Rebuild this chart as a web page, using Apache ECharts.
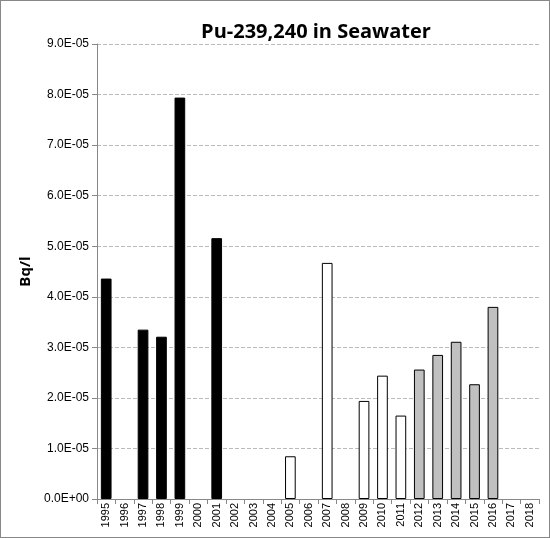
<!DOCTYPE html><html><head><meta charset="utf-8"><script src="https://cdn.jsdelivr.net/npm/echarts@6/dist/echarts.min.js"></script>
<style>body{margin:0}#c{width:548px;height:536px;border:1px solid #888}</style></head><body><div id="c"></div><script>
const years=[];for(let y=1995;y<=2018;y++)years.push(String(y));
const blackVals={1995:4.36e-5,1997:3.35e-5,1998:3.21e-5,1999:7.94e-5,2001:5.16e-5};
const whiteVals={2005:0.845e-5,2007:4.67e-5,2009:1.94e-5,2010:2.44e-5,2011:1.65e-5};
const grayVals={2012:2.56e-5,2013:2.85e-5,2014:3.11e-5,2015:2.27e-5,2016:3.80e-5};
const yTicks=['0.0E+00','1.0E-05','2.0E-05','3.0E-05','4.0E-05','5.0E-05','6.0E-05','7.0E-05','8.0E-05','9.0E-05'];
const mk=(o,c)=>({type:'bar',stack:'a',barWidth:'58%',data:years.map(y=>o[y]??null),itemStyle:{color:c,borderColor:'#000',borderWidth:1}});
const ch=echarts.init(document.getElementById('c'));
ch.setOption({animation:false,textStyle:{fontFamily:'Liberation Sans'},
title:{text:'Pu-239,240 in Seawater',left:310,top:16,textAlign:'center',textStyle:{fontSize:20,fontWeight:'bold',color:'#000',fontFamily:'Open Sans'}},
grid:{left:96,right:10,top:43,bottom:38,outerBoundsMode:'none',containLabel:false},
xAxis:{type:'category',data:years,name:'Year',nameLocation:'middle',nameGap:24,nameTextStyle:{fontSize:15,fontWeight:'bold',color:'#000',fontFamily:'Open Sans'},axisLine:{lineStyle:{color:'#888'}},axisTick:{show:true,interval:0,length:5,lineStyle:{color:'#888'}},axisLabel:{rotate:90,interval:0,fontSize:11,color:'#000',margin:4,verticalAlign:'middle'}},
yAxis:{type:'value',min:0,max:9e-5,interval:1e-5,name:'Bq/l',nameLocation:'middle',nameGap:62,nameTextStyle:{fontSize:15,fontWeight:'bold',color:'#000',fontFamily:'Open Sans'},axisLine:{show:true,lineStyle:{color:'#888'}},axisTick:{show:true,length:5,inside:false,lineStyle:{color:'#888'}},axisLabel:{fontSize:12,color:'#000',formatter:(v)=>yTicks[Math.round(v/1e-5)]},splitLine:{lineStyle:{color:'#bbb',type:'dashed'}}},
series:[mk(blackVals,'#000'),mk(whiteVals,'#fff'),mk(grayVals,'#c0c0c0')]});
</script></body></html>
